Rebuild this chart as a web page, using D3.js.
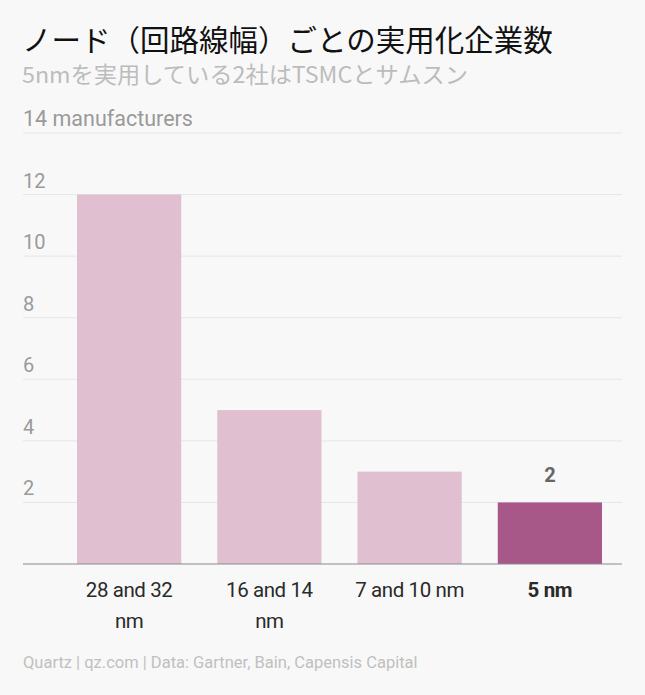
<!DOCTYPE html>
<html><head><meta charset="utf-8">
<script src="https://cdn.jsdelivr.net/npm/d3@7"></script>
<style>
html,body{margin:0;padding:0;background:#f8f8f8;}
svg{display:block;}
</style></head>
<body>
<svg id="chart" width="645" height="695"></svg>
<script>
const categories = ["28 and 32 nm", "16 and 14 nm", "7 and 10 nm", "5 nm"];
const values = [12, 5, 3, 2];
const highlight = [false, false, false, true];
const yTicks = [0, 2, 4, 6, 8, 10, 12, 14];
const title = "ノード（回路線幅）ごとの実用化企業数";
const subtitle = "5nmを実用している2社はTSMCとサムスン";
const yUnit = "manufacturers";
const source = "Quartz | qz.com | Data: Gartner, Bain, Capensis Capital";

const svg = d3.select("#chart");
const font = "Roboto, 'Noto Sans', sans-serif";
const cjk = "'Noto Sans CJK JP', sans-serif";

svg.append("rect").attr("width",645).attr("height",695).attr("fill","#f8f8f8");

svg.append("text").attr("x",22).attr("y",51).attr("font-family",cjk)
  .attr("font-size",29.5).attr("fill","#111").text(title);
const sub = svg.append("text").attr("x",22).attr("y",83).attr("font-family",cjk)
  .attr("font-size",22.5).attr("fill","#bcbcbc").text(subtitle);
const sw = sub.node().getComputedTextLength();
if (Math.abs(sw-446) > 4) sub.attr("textLength",446).attr("lengthAdjust","spacingAndGlyphs");

const y = d3.scaleLinear().domain([0,14]).range([564,133]);
const x = d3.scaleBand().domain(categories).range([59,620]).paddingInner(0.257).paddingOuter(0.1285);

const grid = svg.append("g");
grid.selectAll("line").data(yTicks.filter(d=>d>0)).join("line")
  .attr("x1",23).attr("x2",622).attr("y1",d=>y(d)).attr("y2",d=>y(d))
  .attr("stroke","#e6e6e6").attr("stroke-width",1);
grid.selectAll("text").data(yTicks.filter(d=>d>0)).join("text")
  .attr("x",23).attr("y",d=>y(d)-7).attr("font-family",font)
  .attr("font-size",d=> d===14 ? 21.5 : 20)
  .attr("fill","#9a9a9a").text(d=> d===14 ? d+" "+yUnit : d);

svg.append("g").selectAll("rect").data(categories).join("rect")
  .attr("x",d=>x(d)).attr("width",x.bandwidth())
  .attr("y",(d,i)=>y(values[i])).attr("height",(d,i)=>y(0)-y(values[i]))
  .attr("fill",(d,i)=>highlight[i] ? "#a85789" : "#e0bfd0");

svg.append("line").attr("x1",23).attr("x2",622).attr("y1",y(0)).attr("y2",y(0))
  .attr("stroke","#8a8a8a").attr("stroke-width",1.2);

// value label on highlighted bar
svg.append("g").selectAll("text").data(categories.filter((d,i)=>highlight[i])).join("text")
  .attr("x",d=>x(d)+x.bandwidth()/2).attr("y",d=>y(values[categories.indexOf(d)])-20)
  .attr("text-anchor","middle").attr("font-family",font).attr("font-size",20)
  .attr("font-weight","bold").attr("fill","#666")
  .text(d=>values[categories.indexOf(d)]);

// x labels with wrapping
const maxW = 112;
const xl = svg.append("g");
categories.forEach((c,i)=>{
  const cx = x(c)+x.bandwidth()/2;
  const t = xl.append("text").attr("x",cx).attr("y",597)
    .attr("text-anchor","middle").attr("font-family",font).attr("font-size",20.5)
    .attr("letter-spacing",-0.4)
    .attr("font-weight",highlight[i]?"bold":"normal").attr("fill","#2a2a2a");
  const words = c.split(" ");
  let line = [], ts = t.append("tspan").attr("x",cx).attr("dy",0);
  words.forEach(w=>{
    line.push(w);
    ts.text(line.join(" "));
    if (ts.node().getComputedTextLength() > maxW && line.length>1){
      line.pop(); ts.text(line.join(" "));
      line=[w];
      ts = t.append("tspan").attr("x",cx).attr("dy",31).text(w);
    }
  });
});

svg.append("text").attr("x",23).attr("y",668).attr("font-family",font)
  .attr("font-size",16.5).attr("fill","#c0c0c0").text(source);
</script>
</body></html>
